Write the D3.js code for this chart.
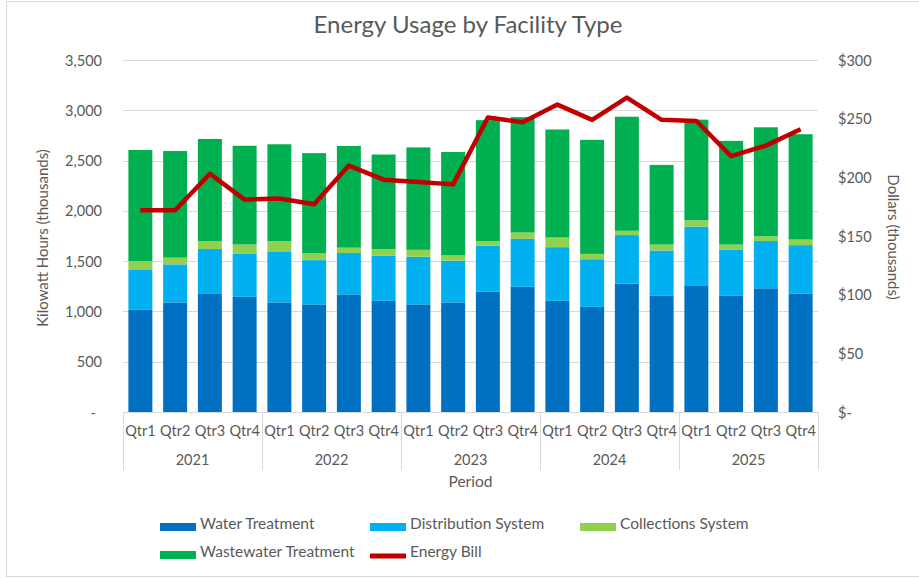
<!DOCTYPE html>
<html>
<head>
<meta charset="utf-8">
<script src="https://cdn.jsdelivr.net/npm/d3@7/dist/d3.min.js"></script>
<style>
  body { margin: 0; background: #fff; }
  svg text { font-family: Lato, "Open Sans", sans-serif; fill: #595959; }
</style>
</head>
<body>
<div id="chart"></div>
<script>
// chart data
const years = ['2021', '2022', '2023', '2024', '2025'];
const quarters = ['Qtr1', 'Qtr2', 'Qtr3', 'Qtr4'];
const waterTreatment = [1020, 1090, 1180, 1145, 1090, 1070, 1170, 1105, 1070, 1090, 1195, 1245, 1105, 1045, 1275, 1155, 1260, 1155, 1230, 1175];
const distributionSystem = [392, 378, 441, 431, 501, 440, 411, 451, 474, 415, 460, 477, 534, 474, 484, 451, 583, 457, 470, 484];
const collectionsSystem = [89, 67, 79, 90, 109, 70, 53, 63, 69, 53, 43, 63, 96, 53, 43, 59, 63, 53, 47, 56];
const wastewaterTreatment = [1104, 1060, 1015, 981, 962, 994, 1011, 941, 1018, 1027, 1204, 1147, 1074, 1134, 1134, 792, 1001, 1031, 1084, 1047];
const energyBill = [172, 172, 203, 181, 182, 177, 210, 198, 196, 194, 251, 247, 262, 249, 268, 249, 248, 218, 227, 241];
const kwhTicks = [0, 500, 1000, 1500, 2000, 2500, 3000, 3500];
const dollarTicks = [0, 50, 100, 150, 200, 250, 300];

const width = 919;
const height = 578;
const plot = {left: 123, right: 818, top: 60, bottom: 412};

const seriesNames = ['Water Treatment', 'Distribution System', 'Collections System', 'Wastewater Treatment'];
const colors = ['#0070C0', '#00B0F0', '#92D050', '#00B050'];
const lineColor = '#C00000';

// one row per quarter
const periods = [];
years.forEach(y => quarters.forEach(q => periods.push(y + ' ' + q)));
const table = periods.map((p, i) => ({
    period: p,
    'Water Treatment': waterTreatment[i],
    'Distribution System': distributionSystem[i],
    'Collections System': collectionsSystem[i],
    'Wastewater Treatment': wastewaterTreatment[i],
    bill: energyBill[i]
}));

const svg = d3.select('#chart')
    .append('svg')
    .attr('width', width)
    .attr('height', height);

// chart frame
svg.append('rect')
    .attr('x', 6.5).attr('y', 1.5)
    .attr('width', width).attr('height', 575)
    .attr('fill', 'none')
    .attr('stroke', '#d9d9d9');

const x = d3.scaleBand()
    .domain(periods)
    .range([plot.left, plot.right])
    .paddingInner(0.31)
    .paddingOuter(0.155);

const yLeft = d3.scaleLinear().domain([0, 3500]).range([plot.bottom, plot.top]);
const yRight = d3.scaleLinear().domain([0, 300]).range([plot.bottom, plot.top]);

// gridlines
svg.append('g')
    .selectAll('line')
    .data(kwhTicks.slice(1))
    .join('line')
    .attr('x1', plot.left).attr('x2', plot.right)
    .attr('y1', d => Math.round(yLeft(d)) + 0.5)
    .attr('y2', d => Math.round(yLeft(d)) + 0.5)
    .attr('stroke', '#d9d9d9');

// left axis
const leftAxis = svg.append('g')
    .attr('transform', `translate(${plot.left - 21}, 0)`)
    .call(d3.axisLeft(yLeft).tickValues(kwhTicks).tickSize(0)
        .tickFormat(d => d === 0 ? '-' : d3.format(',')(d)));
leftAxis.select('.domain').remove();
leftAxis.selectAll('text').style('font-size', '14.5px')
    .attr('x', d => d === 0 ? -6 : 0).attr('dy', '0.35em');

// right axis
const rightAxis = svg.append('g')
    .attr('transform', `translate(838, 0)`)
    .call(d3.axisRight(yRight).tickValues(dollarTicks).tickSize(0)
        .tickFormat(d => d === 0 ? '$-' : '$' + d));
rightAxis.select('.domain').remove();
rightAxis.selectAll('text').style('font-size', '14.5px').attr('x', 0).attr('dy', '0.35em');

// stacked bars
const stack = d3.stack().keys(seriesNames);
const stacked = stack(table);

svg.append('g')
    .selectAll('g')
    .data(stacked)
    .join('g')
    .attr('fill', (d, i) => colors[i])
    .selectAll('rect')
    .data(d => d)
    .join('rect')
    .attr('x', d => x(d.data.period))
    .attr('width', x.bandwidth())
    .attr('y', d => yLeft(d[1]))
    .attr('height', d => yLeft(d[0]) - yLeft(d[1]));

// energy bill line
const line = d3.line()
    .x(d => x(d.period) + x.bandwidth() / 2)
    .y(d => yRight(d.bill));

svg.append('path')
    .datum(table)
    .attr('d', line)
    .attr('fill', 'none')
    .attr('stroke', lineColor)
    .attr('stroke-width', 4.5)
    .attr('stroke-linejoin', 'round');

// category axis: quarters and year groups
const axisG = svg.append('g');
axisG.append('line')
    .attr('x1', plot.left).attr('x2', plot.right)
    .attr('y1', plot.bottom + 0.5).attr('y2', plot.bottom + 0.5)
    .attr('stroke', '#d9d9d9');

const step = x.step();
const yearEdges = d3.range(years.length + 1).map(i => plot.left + i * 4 * step);
axisG.selectAll('.sep')
    .data(yearEdges)
    .join('line')
    .attr('class', 'sep')
    .attr('x1', d => Math.round(d) + 0.5).attr('x2', d => Math.round(d) + 0.5)
    .attr('y1', plot.bottom).attr('y2', 470)
    .attr('stroke', '#d9d9d9');

axisG.selectAll('.qtr')
    .data(periods)
    .join('text')
    .attr('class', 'qtr')
    .attr('x', d => x(d) + x.bandwidth() / 2)
    .attr('y', 431)
    .attr('dy', '0.35em')
    .attr('text-anchor', 'middle')
    .style('font-size', '14.5px')
    .text(d => d.split(' ')[1]);

axisG.selectAll('.yr')
    .data(years)
    .join('text')
    .attr('class', 'yr')
    .attr('x', (d, i) => (yearEdges[i] + yearEdges[i + 1]) / 2)
    .attr('y', 460)
    .attr('dy', '0.35em')
    .attr('text-anchor', 'middle')
    .style('font-size', '14.5px')
    .text(d => d);

// titles
svg.append('text')
    .text('Energy Usage by Facility Type')
    .attr('x', 468).attr('y', 25)
    .attr('dy', '0.35em')
    .attr('text-anchor', 'middle')
    .style('font-size', '24px');

svg.append('text')
    .text('Period')
    .attr('x', (plot.left + plot.right) / 2).attr('y', 482)
    .attr('dy', '0.35em')
    .attr('text-anchor', 'middle')
    .style('font-size', '15.5px');

svg.append('text')
    .text('Kilowatt Hours (thousands)')
    .attr('transform', 'translate(43, 238) rotate(-90)')
    .attr('dy', '0.35em')
    .attr('text-anchor', 'middle')
    .style('font-size', '15px');

svg.append('text')
    .text('Dollars (thousands)')
    .attr('transform', 'translate(893, 237) rotate(90)')
    .attr('dy', '0.35em')
    .attr('text-anchor', 'middle')
    .style('font-size', '15px');

// legend
const legendItems = [
    {name: 'Water Treatment', color: colors[0], x: 160, y: 527, type: 'bar'},
    {name: 'Distribution System', color: colors[1], x: 370, y: 527, type: 'bar'},
    {name: 'Collections System', color: colors[2], x: 580, y: 527, type: 'bar'},
    {name: 'Wastewater Treatment', color: colors[3], x: 160, y: 555, type: 'bar'},
    {name: 'Energy Bill', color: lineColor, x: 370, y: 555, type: 'line'}
];

const legend = svg.append('g')
    .selectAll('g')
    .data(legendItems)
    .join('g')
    .attr('transform', d => `translate(${d.x}, ${d.y})`);

legend.filter(d => d.type === 'bar')
    .append('rect')
    .attr('x', 0).attr('y', -4)
    .attr('width', 36).attr('height', 8)
    .attr('fill', d => d.color);

legend.filter(d => d.type === 'line')
    .append('line')
    .attr('x1', 0).attr('x2', 36)
    .attr('y1', 1).attr('y2', 1)
    .attr('stroke', d => d.color)
    .attr('stroke-width', 5);

legend.append('text')
    .attr('x', 40).attr('y', -3)
    .attr('dy', '0.35em')
    .style('font-size', '15.5px')
    .text(d => d.name);
</script>
</body>
</html>
